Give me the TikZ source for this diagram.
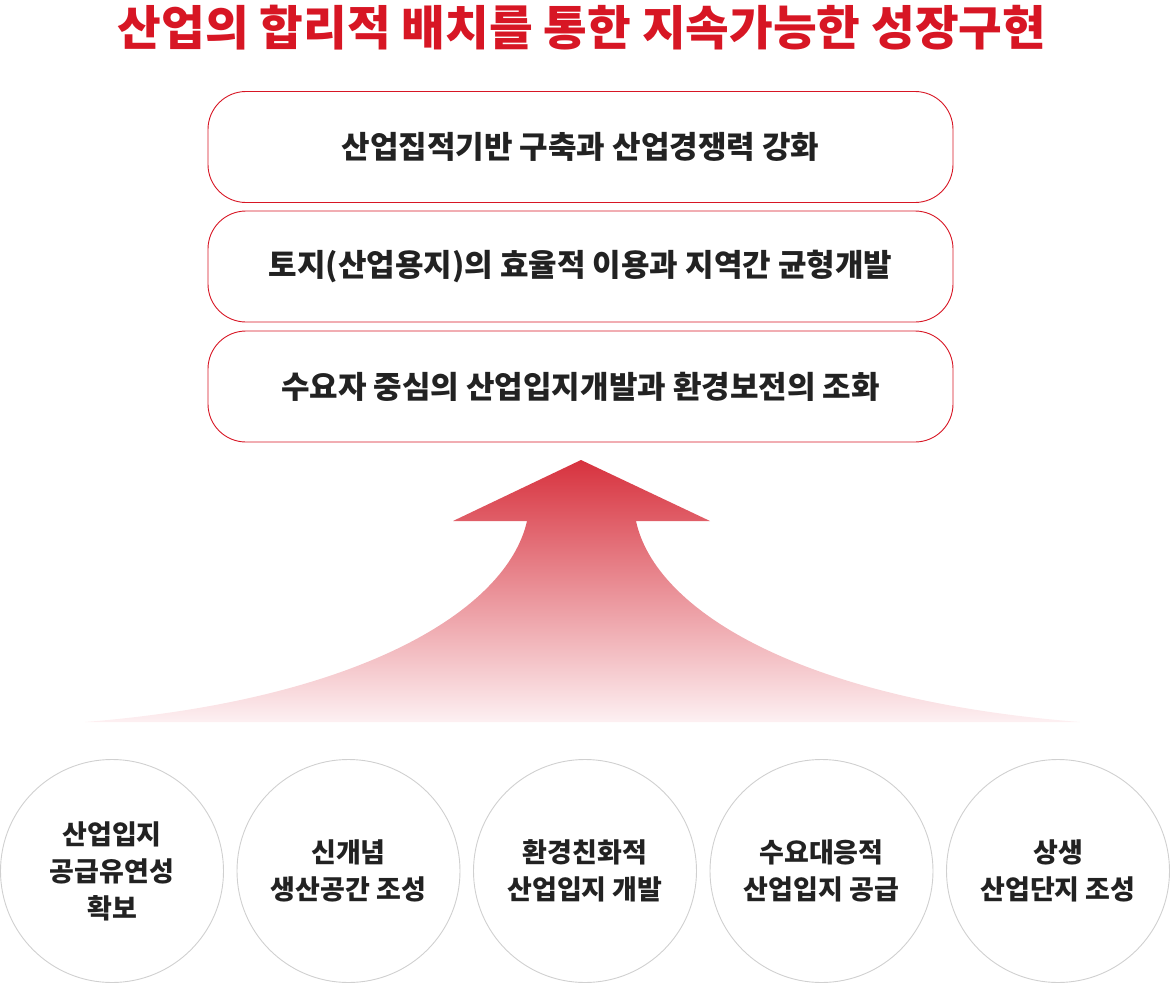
\documentclass[tikz,border=0pt]{standalone}
\usepackage{fontspec}
\setmainfont{Noto Sans CJK KR}
\definecolor{titlered}{RGB}{215,22,36}
\definecolor{boxred}{RGB}{215,22,36}
\definecolor{arrowtop}{RGB}{215,50,62}
\definecolor{arrowbot}{RGB}{253,240,242}
\definecolor{circgray}{RGB}{208,208,208}
\definecolor{txt}{RGB}{34,34,34}
\tikzset{
  goalbox/.style={draw=boxred, line width=0.9pt, rounded corners=38pt, minimum width=745pt, minimum height=111pt, inner sep=0pt, font=\fontsize{31}{36}\selectfont\bfseries, text=txt},
  basecirc/.style={circle, draw=circgray, line width=0.9pt, minimum size=223pt, inner sep=0pt, align=center, font=\fontsize{27}{37}\selectfont\bfseries, text=txt},
}
\begin{document}
\begin{tikzpicture}[x=1pt,y=-1pt]
\useasboundingbox (0,0) rectangle (1171,983);
\node[font=\fontsize{47.5}{52}\selectfont\bfseries, text=titlered] (title) at (582,28) {산업의 합리적 배치를 통한 지속가능한 성장구현};
\node[goalbox] (g1) at (580.5,147) {산업집적기반 구축과 산업경쟁력 강화};
\node[goalbox] (g2) at (580.5,266.5) {토지(산업용지)의 효율적 이용과 지역간 균형개발};
\node[goalbox] (g3) at (580.5,386.5) {수요자 중심의 산업입지개발과 환경보전의 조화};
\shade[top color=arrowtop, bottom color=arrowbot]
  (581,460) -- (710,521) -- (636,521)
  .. controls (655,610) and (800,700) .. (1080,722)
  -- (85,722)
  .. controls (360,700) and (507,610) .. (527,521)
  -- (453,521) -- cycle;
\node[basecirc] (c1) at (112,871) {산업입지\\공급유연성\\확보};
\node[basecirc] (c2) at (348.5,871) {신개념\\생산공간 조성};
\node[basecirc] (c3) at (585,871) {환경친화적\\산업입지 개발};
\node[basecirc] (c4) at (821.5,871) {수요대응적\\산업입지 공급};
\node[basecirc] (c5) at (1058,871) {상생\\산업단지 조성};
\end{tikzpicture}
\end{document}
